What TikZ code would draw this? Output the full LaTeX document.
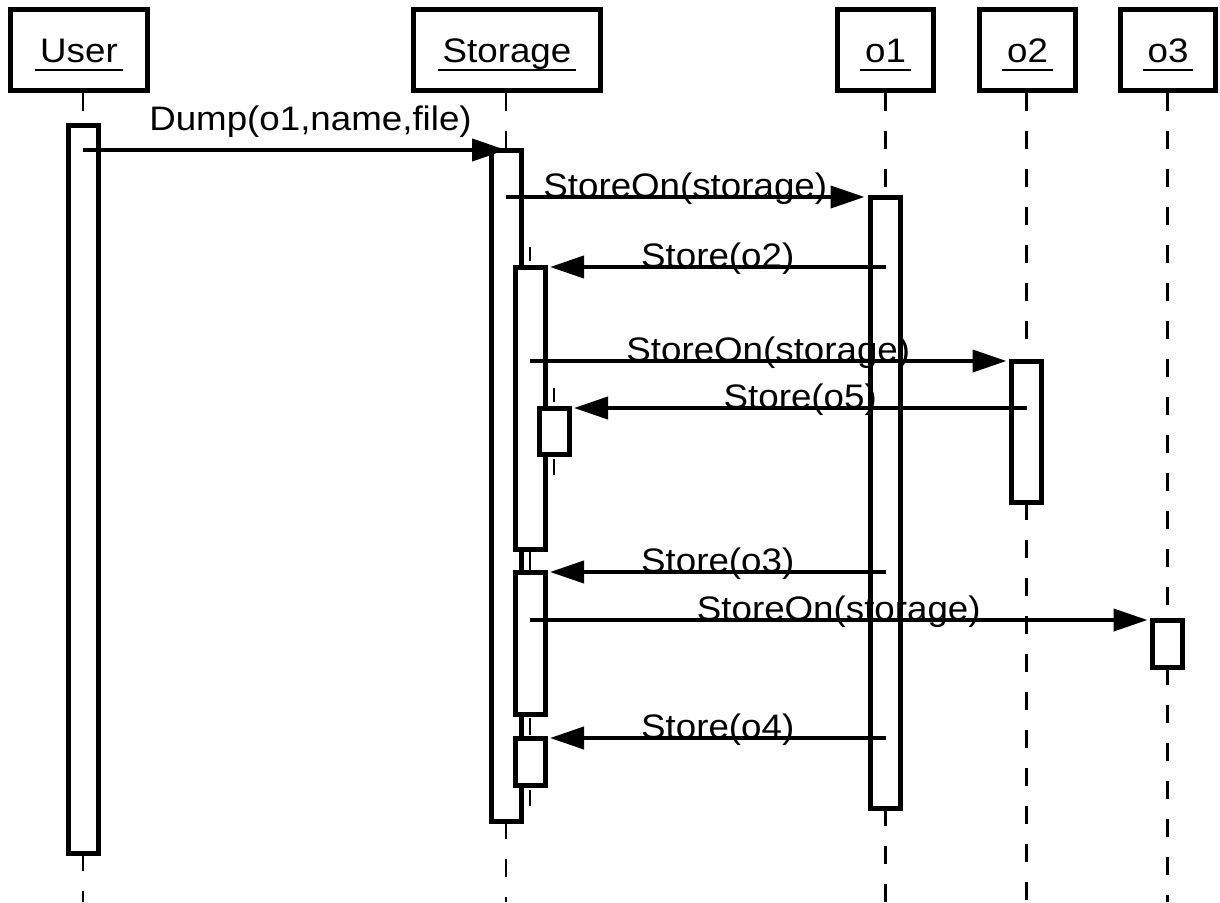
\documentclass[tikz,border=0pt]{standalone}
\usepackage{fontspec}
\setmainfont{Liberation Sans}[FakeStretch=1.08]
\usetikzlibrary{arrows.meta}
\newcommand\objname[1]{\setbox0\hbox{#1}\rlap{\kern-5pt\rule[-9pt]{\dimexpr\wd0+10pt\relax}{2.4pt}}\box0}

\begin{document}
\begin{tikzpicture}[x=1pt,y=-1pt,
  objbox/.style={draw,line width=5pt,minimum height=81pt,text height=24pt,text depth=0pt,inner sep=0pt,font=\fontsize{34}{40}\selectfont},
  act/.style={draw,fill=white,line width=5pt,minimum width=30pt,inner sep=0pt,outer sep=0pt,anchor=north},
  life/.style={line width=2.5pt,dash pattern=on 18pt off 20pt},
  stub/.style={line width=2.5pt},
  msg/.style={line width=4pt,-{Triangle[length=34pt,width=22pt]}},
  lbl/.style={font=\fontsize{34}{40}\selectfont,anchor=base,inner sep=0pt}]
\useasboundingbox (0,0) rectangle (1220,902);
\coordinate (bot) at (0,902);
% objects
\node[objbox,minimum width=137pt] (user) at (79,50) {\objname{User}};
\node[objbox,minimum width=187pt] (store) at (507,50) {\objname{Storage}};
\node[objbox,minimum width=96pt] (o1) at (885.5,50) {\objname{o1}};
\node[objbox,minimum width=96pt] (o2) at (1027.5,50) {\objname{o2}};
\node[objbox,minimum width=95pt] (o3) at (1168,50) {\objname{o3}};
% activations
\node[act,minimum height=728pt] (ua) at (83,125) {};
\node[act,minimum height=671pt] (sa) at (506,150) {};
\node[act,minimum height=611pt] (oa) at (885.5,197) {};
\node[act,minimum height=282pt] (sb) at (530,267) {};
\node[act,minimum height=141pt] (ob) at (1026.5,361) {};
\node[act,minimum height=46pt] (sc) at (554,408) {};
\node[act,minimum height=142pt] (sd) at (530,572) {};
\node[act,minimum height=47pt] (oc) at (1167.5,620) {};
\node[act,minimum height=47pt] (se) at (530,738) {};
% lifelines
\draw[life] (ua.north |- user.south) -- (ua.north);
\draw[life] (ua.south) -- (ua.south |- bot);
\draw[life] (sa.north |- store.south) -- (sa.north);
\draw[life] (sa.south) -- (sa.south |- bot);
\draw[life] (oa.north |- o1.south) -- (oa.north);
\draw[life] (oa.south) -- (oa.south |- bot);
\draw[life] (ob.north |- o2.south) -- (ob.north);
\draw[life] (ob.south) -- (ob.south |- bot);
\draw[life] (oc.north |- o3.south) -- (oc.north);
\draw[life] (oc.south) -- (oc.south |- bot);
\draw[stub] ([yshift=20pt]sb.north) -- ([yshift=6pt]sb.north);
\draw[stub] ([yshift=-5pt]sb.south) -- ([yshift=-21pt]sb.south);
\draw[stub] ([yshift=20pt]sc.north) -- ([yshift=6pt]sc.north);
\draw[stub] ([yshift=-5pt]sc.south) -- ([yshift=-21pt]sc.south);
\draw[stub] ([yshift=20pt]sd.north) -- ([yshift=6pt]sd.north);
\draw[stub] ([yshift=-5pt]sd.south) -- ([yshift=-21pt]sd.south);
\draw[stub] ([yshift=20pt]se.north) -- ([yshift=6pt]se.north);
\draw[stub] ([yshift=-5pt]se.south) -- ([yshift=-21pt]se.south);
% messages
\draw[msg] (ua.center |- sa.north) -- (sa.north) node[lbl,midway,xshift=16pt,yshift=20pt] (m1) {Dump(o1,name,file)};
\draw[msg] (sa.center |- oa.north) -- ([xshift=-6pt]oa.north west) node[lbl,midway] (m2) {StoreOn(storage)};
\draw[msg] (oa.center |- sb.north) -- ([xshift=5pt]sb.north east) node[lbl,midway] (m3) {Store(o2)};
\draw[msg] (sb.center |- ob.north) -- ([xshift=-5pt]ob.north west) node[lbl,midway] (m4) {StoreOn(storage)};
\draw[msg] (ob.center |- sc.north) -- ([xshift=5pt]sc.north east) node[lbl,midway] (m5) {Store(o5)};
\draw[msg] (oa.center |- sd.north) -- ([xshift=5pt]sd.north east) node[lbl,midway] (m6) {Store(o3)};
\draw[msg] (sd.center |- oc.north) -- ([xshift=-5pt]oc.north west) node[lbl,midway] (m7) {StoreOn(storage)};
\draw[msg] (oa.center |- se.north) -- ([xshift=5pt]se.north east) node[lbl,midway] (m8) {Store(o4)};
\end{tikzpicture}
\end{document}
